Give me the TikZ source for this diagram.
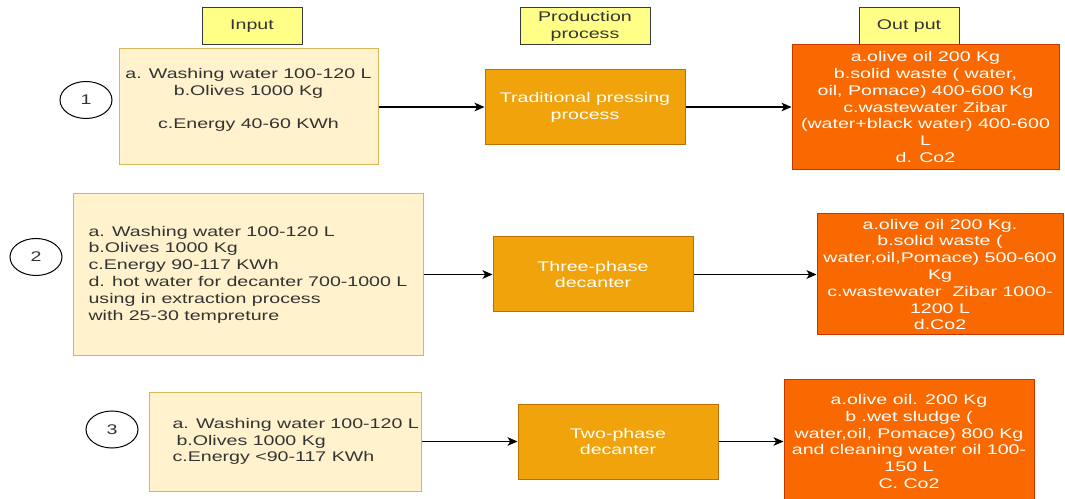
\documentclass[tikz,border=0pt]{standalone}
\usepackage{fontspec}
\setmainfont{Liberation Sans}[FakeStretch=1.4]
\usepackage{tikz}
\usetikzlibrary{shapes.geometric,arrows.meta}
\definecolor{hdrfill}{HTML}{FFFF88}
\definecolor{hdrdraw}{HTML}{36393D}
\definecolor{infill}{HTML}{FFF2CC}
\definecolor{indraw}{HTML}{D6B656}
\definecolor{procfill}{HTML}{F0A30A}
\definecolor{procdraw}{HTML}{BD7000}
\definecolor{outfill}{HTML}{FA6800}
\definecolor{outdraw}{HTML}{C73500}
\definecolor{txtgray}{HTML}{333333}

\begin{document}
\begin{tikzpicture}[x=0.75pt,y=-0.75pt,
  every node/.style={font=\fontsize{10.5}{12.6}\selectfont},
  hdr/.style={draw=hdrdraw,fill=hdrfill,text=txtgray,align=center,minimum height=27.75pt,inner sep=0pt,line width=0.75pt},
  inbox/.style={draw=indraw,fill=infill,text=txtgray,inner sep=0pt,line width=0.75pt},
  procbox/.style={draw=procdraw,fill=procfill,text=white,align=center,minimum width=150pt,minimum height=56.25pt,inner sep=0pt,line width=0.75pt},
  outbox/.style={draw=outdraw,fill=outfill,text=white,align=center,inner sep=0pt,line width=0.75pt},
  numcirc/.style={draw,ellipse,text=txtgray,minimum width=39pt,minimum height=27.75pt,inner sep=0pt,line width=0.75pt},
  flow/.style={-{Stealth[length=7.5pt,width=6.5pt,inset=2pt]},line width=0.9pt}]
\clip (0,0) rectangle (1065,499);
% Column headers
\node[hdr,minimum width=75pt] (hin) at (252,26.5) {Input};
\node[hdr,minimum width=97.5pt] (hproc) at (585,26.5) {Production\\process};
\node[hdr,minimum width=75pt] (hout) at (909,26.5) {Out put};
% Row 1: traditional pressing
\node[numcirc] (n1) at (86,100) {1};
\node[inbox,align=center,minimum width=194.25pt,minimum height=87pt] (in1) at (248.5,107)
  {a. Washing water 100-120 L\\b.Olives 1000 Kg\\\mbox{}\\c.Energy 40-60 KWh\\\mbox{}};
\node[procbox] (pr1) at (585,107) {Traditional pressing\\process};
\node[outbox,minimum width=200.25pt,minimum height=93.75pt] (out1) at (925.5,107)
  {a.olive oil 200 Kg\\b.solid waste ( water,\\oil, Pomace) 400-600 Kg\\c.wastewater Zibar\\(water+black water) 400-600\\L\\d. Co2};
\draw[flow] (in1) -- (pr1);
\draw[flow] (pr1) -- (out1);
% Row 2: three-phase decanter
\node[numcirc] (n2) at (36,257) {2};
\node[inbox,align=left,minimum width=262.5pt,minimum height=120.75pt] (in2) at (248,274.5)
  {a. Washing water 100-120 L\\b.Olives 1000 Kg\\c.Energy 90-117 KWh\\d. hot water for decanter 700-1000 L\\using in extraction process\\with 25-30 tempreture};
\node[procbox] (pr2) at (593,274.5) {Three-phase\\decanter};
\node[outbox,minimum width=184.5pt,minimum height=90.75pt] (out2) at (940,274.5)
  {a.olive oil 200 Kg.\\b.solid waste (\\water,oil,Pomace) 500-600\\Kg\\c.wastewater\ \ Zibar 1000-\\1200 L\\d.Co2};
\draw[flow] (in2) -- (pr2);
\draw[flow] (pr2) -- (out2);
% Row 3: two-phase decanter
\node[numcirc] (n3) at (112,429.5) {3};
\node[inbox,align=left,minimum width=204pt,minimum height=74.25pt] (in3) at (285,441.5)
  {\hspace*{16pt}a. Washing water 100-120 L\\\hspace*{19pt}b.Olives 1000 Kg\\\hspace*{16pt}c.Energy <90-117 KWh};
\node[procbox] (pr3) at (618,441.5) {Two-phase\\decanter};
\node[outbox,minimum width=187.5pt,minimum height=93pt] (out3) at (909,441.5)
  {a.olive oil. 200 Kg\\b .wet sludge (\\water,oil, Pomace) 800 Kg\\and cleaning water oil 100-\\150 L\\C. Co2};
\draw[flow] (in3) -- (pr3);
\draw[flow] (pr3) -- (out3);
\end{tikzpicture}
\end{document}
